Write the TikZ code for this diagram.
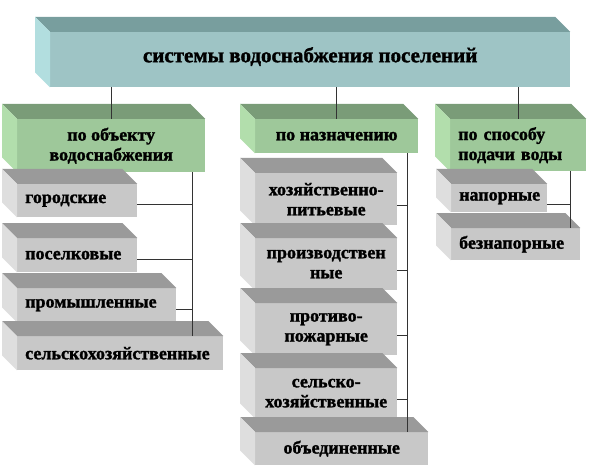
\documentclass[tikz,border=0pt]{standalone}
\usepackage{fontspec}
\setmainfont{Liberation Serif}
\newfontfamily\boxfont{Liberation Serif}[BoldFont={Liberation Serif Bold}, BoldFeatures={FakeBold=1.5}]
\usepackage{xcolor}
\usetikzlibrary{positioning}

\definecolor{tealfront}{HTML}{9EC4C5}
\definecolor{tealtop}{HTML}{789E9E}
\definecolor{tealside}{HTML}{B2DEDF}
\definecolor{greenfront}{HTML}{9EC89A}
\definecolor{greentop}{HTML}{7A9C78}
\definecolor{greenside}{HTML}{B2DEAC}
\definecolor{grayfront}{HTML}{C8C8C8}
\definecolor{graytop}{HTML}{9A9A9A}
\definecolor{grayside}{HTML}{DEDEDE}

\begin{document}
\begin{tikzpicture}[
    x=1pt, y=-1pt,
    face/.style={rectangle, anchor=north west, inner sep=0pt, align=center, font=\boxfont\bfseries\fontsize{18}{20}\selectfont},
    sysbox/.style={face, fill=tealfront, text depth=10pt, font=\boxfont\bfseries\fontsize{21}{24}\selectfont},
    catbox/.style={face, fill=greenfront},
    leafbox/.style={face, fill=grayfront},
    leftpad/.style={inner xsep=8pt, align=left},
    wire/.style={draw=black!80, line width=0.8pt},
]
\useasboundingbox (0,0) rectangle (600,476);

% Top node
\node[sysbox, minimum width=520pt, minimum height=55pt] (sys) at (50,32) {системы водоснабжения поселений};

% Classification nodes
\node[catbox, minimum width=188pt, minimum height=53pt] (obj) at (17,119) {по объекту\\водоснабжения};
\node[catbox, minimum width=163pt, minimum height=34pt] (purp) at (255,119) {по назначению};
\node[catbox, leftpad, text width=120pt, minimum height=52pt] (supply) at (450,119) {по способу\\подачи воды};

% By object
\node[leafbox, leftpad, text width=104pt, minimum height=33pt] (city) at (17,184) {городские};
\node[leafbox, leftpad, text width=104pt, minimum height=34pt] (settle) at (17,238) {поселковые};
\node[leafbox, leftpad, text width=143pt, minimum height=34pt] (indus) at (17,288) {промышленные};
\node[leafbox, leftpad, text width=190pt, minimum height=34pt] (rural) at (17,336) {сельскохозяйственные};

% By purpose
\node[leafbox, minimum width=142pt, minimum height=52pt] (drink) at (255,173) {хозяйственно-\\питьевые};
\node[leafbox, minimum width=142pt, minimum height=52pt] (prod) at (255,238) {производствен\\ные};
\node[leafbox, minimum width=142pt, minimum height=52pt] (fire) at (255,303) {противо-\\пожарные};
\node[leafbox, minimum width=142pt, minimum height=50pt] (agri) at (255,368) {сельско-\\хозяйственные};
\node[leafbox, minimum width=173pt, minimum height=33pt] (comb) at (255,432) {объединенные};

% By supply
\node[leafbox, leftpad, text width=80pt, minimum height=28pt] (press) at (451,184) {напорные};
\node[leafbox, leftpad, text width=113pt, minimum height=32pt] (nopress) at (451,228) {безнапорные};

% Top and side faces
\foreach \n/\tc/\sc in {sys/tealtop/tealside, obj/greentop/greenside, purp/greentop/greenside,
    supply/greentop/greenside, city/graytop/grayside, settle/graytop/grayside, indus/graytop/grayside,
    rural/graytop/grayside, drink/graytop/grayside, prod/graytop/grayside, fire/graytop/grayside,
    agri/graytop/grayside, comb/graytop/grayside, press/graytop/grayside, nopress/graytop/grayside}
{
    \fill[\tc] (\n.north west) -- ++(-15,-15) -- ([shift={(-15,-15)}]\n.north east) -- (\n.north east) -- cycle;
    \fill[\sc] (\n.north west) -- ++(-15,-15) -- ([shift={(-15,-15)}]\n.south west) -- (\n.south west) -- cycle;
}

% Drops from the top node
\foreach \n in {obj, purp, supply}
    \draw[wire] (\n.north |- sys.south) -- (\n.north);

% Buses
\coordinate (busL) at ([xshift=-13pt]obj.south east);
\coordinate (busM) at ([xshift=-11pt]purp.south east);
\coordinate (busR) at ([xshift=-16pt]supply.south east);
\draw[wire] (busL) -- (busL |- rural.north);
\draw[wire] (busM) -- (busM |- comb.north);
\draw[wire] (busR) -- (busR |- nopress.north);

\foreach \n in {city, settle, indus}
    \draw[wire] ([yshift=-4pt]\n.east) -- ([yshift=-4pt]\n.east -| busL);
\foreach \n in {drink, prod, fire, agri}
    \draw[wire] ([yshift=-6pt]\n.east) -- ([yshift=-6pt]\n.east -| busM);
\draw[wire] ([yshift=-6pt]press.east) -- ([yshift=-6pt]press.east -| busR);

\end{tikzpicture}
\end{document}
